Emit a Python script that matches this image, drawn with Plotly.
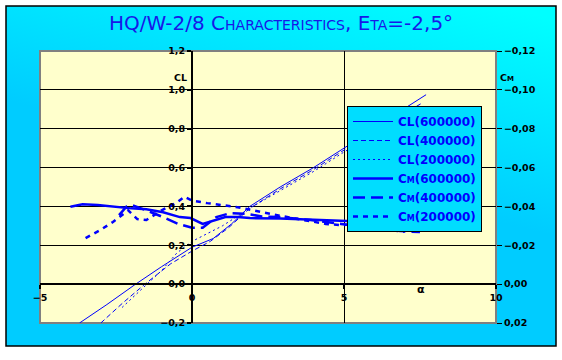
import base64
import plotly.graph_objects as go

# ---------------- data ----------------
alpha_cl600 = [-3.7, -2.8, -1.9, -1.0, 0.0, 0.7, 1.3, 1.9, 2.9, 4.0, 5.0, 6.0, 7.0, 7.7]
cl600 = [-0.20, -0.105, -0.005, 0.09, 0.19, 0.235, 0.31, 0.40, 0.50, 0.60, 0.70, 0.80, 0.905, 0.975]

alpha_cl400 = [-3.0, -2.3, -1.55, -0.7, 0.0, 0.6, 1.2, 1.9, 2.9, 4.0, 5.0, 6.0, 7.0, 7.6]
cl400 = [-0.20, -0.10, 0.0, 0.105, 0.17, 0.22, 0.29, 0.39, 0.49, 0.59, 0.69, 0.79, 0.88, 0.935]

alpha_cl200 = [-2.3, -1.6, -1.0, -0.5, 0.0, 0.5, 1.0, 1.5, 2.0, 3.0, 4.0, 5.0, 6.0, 7.0, 7.5]
cl200 = [-0.12, -0.02, 0.07, 0.16, 0.22, 0.26, 0.30, 0.35, 0.40, 0.49, 0.58, 0.68, 0.77, 0.86, 0.91]

alpha_cm600 = [-4.0, -3.6, -3.1, -2.6, -2.0, -1.5, -0.95, -0.4, -0.05, 0.35, 0.7, 1.1, 1.5, 1.9,
               2.9, 4.0, 5.1, 6.2, 7.3, 7.7]
cm600 = [-0.0398, -0.0411, -0.0407, -0.0398, -0.0390, -0.0386, -0.0370, -0.0345, -0.0340, -0.0310,
         -0.0325, -0.0345, -0.0345, -0.0340, -0.0338, -0.0330, -0.0325, -0.0323, -0.0315, -0.0310]

alpha_cm400 = [-2.4, -2.15, -1.95, -1.5, -0.95, -0.45, 0.0, 0.35, 0.8, 1.25, 1.8, 2.3, 2.9, 3.9,
               4.9, 6.0, 6.85, 7.5]
cm400 = [-0.0355, -0.0400, -0.0405, -0.0380, -0.0345, -0.0310, -0.0290, -0.0290, -0.0345, -0.0365,
         -0.0362, -0.0348, -0.0345, -0.0330, -0.0310, -0.0290, -0.0273, -0.0268]

alpha_cm200 = [-3.5, -3.0, -2.6, -2.3, -2.1, -1.8, -1.5, -1.0, -0.5, -0.25, 0.0, 0.5, 1.0, 1.5,
               2.0, 2.6, 3.3, 4.4, 4.9, 5.5, 6.0, 6.4, 7.0]
cm200 = [-0.0237, -0.0280, -0.0320, -0.0355, -0.0380, -0.0335, -0.0330, -0.0380, -0.0420, -0.0450,
         -0.0430, -0.0417, -0.0407, -0.0396, -0.0380, -0.0360, -0.0340, -0.0310, -0.0304, -0.0310,
         -0.0300, -0.0280, -0.0270]

x_ticks = [-5, 0, 5, 10]
title_text = "HQ/W-2/8 Characteristics, Eta=-2,5°"

# ---------------- layout geometry ----------------
W, H = 562, 360
ML, MR, MT, MB = 40, 66, 51, 37
PW, PH = W - ML - MR, H - MT - MB

def px_x(px):
    return (px - ML) / PW

def px_y(py):
    return (H - MB - py) / PH

BLUE = "#0000FF"
TICKFONT = dict(family="DejaVu Sans", size=9.5, color="black", weight="bold")

fig = go.Figure()

cl_specs = [("CL(600000)", alpha_cl600, cl600, "solid"),
            ("CL(400000)", alpha_cl400, cl400, "5px,3px"),
            ("CL(200000)", alpha_cl200, cl200, "2px,3px")]
for name, a, v, dash in cl_specs:
    fig.add_trace(go.Scatter(x=a, y=v, name=name, mode="lines",
                             line=dict(color=BLUE, width=1, dash=dash), yaxis="y"))

cm_specs = [("Cm(600000)", alpha_cm600, cm600, "solid"),
            ("Cm(400000)", alpha_cm400, cm400, "12px,6px"),
            ("Cm(200000)", alpha_cm200, cm200, "5px,5px")]
for name, a, v, dash in cm_specs:
    fig.add_trace(go.Scatter(x=a, y=v, name=name, mode="lines",
                             line=dict(color=BLUE, width=2.5, dash=dash), yaxis="y2"))

# background gradient (outer panel) with the pale plot area
bx0, by0, bx1, by1 = 6, 6, 556, 346
bw, bh = bx1 - bx0, by1 - by0
svg = (f'<svg xmlns="http://www.w3.org/2000/svg" width="{bw}" height="{bh}" '
       f'preserveAspectRatio="none"><defs><linearGradient id="g" x1="0.9" y1="0" x2="0.5" y2="1">'
       f'<stop offset="0" stop-color="#00FFFF"/><stop offset="0.55" stop-color="#00CCFF"/>'
       f'<stop offset="1" stop-color="#00CCFF"/></linearGradient></defs>'
       f'<rect width="{bw}" height="{bh}" fill="url(#g)"/>'
       f'<rect x="{ML-bx0}" y="{MT-by0}" width="{PW}" height="{PH}" fill="#FFFFCC"/></svg>')
src = "data:image/svg+xml;base64," + base64.b64encode(svg.encode()).decode()

fig.update_layout(
    width=W, height=H,
    margin=dict(l=ML, r=MR, t=MT, b=MB),
    paper_bgcolor="white",
    plot_bgcolor="#FFFFCC",
    separators=",.",
    showlegend=True,
    title=dict(text=title_text, x=0.5, xanchor="center", xref="container",
               y=1 - 23 / H, yanchor="middle", yref="container",
               font=dict(family="DejaVu Sans", size=20, color="#1818E8", variant="small-caps")),
    images=[dict(source=src, xref="paper", yref="paper",
                 x=px_x(bx0), y=px_y(by0), sizex=bw / PW, sizey=bh / PH,
                 xanchor="left", yanchor="top", sizing="stretch", layer="below")],
    xaxis=dict(domain=[0, 1], range=[-5, 10], anchor="free", position=1 / 7,
               tickvals=x_ticks, showline=True, linecolor="black", linewidth=2,
               ticks="outside", ticklen=4, tickwidth=2, tickcolor="black",
               showgrid=True, gridcolor="black", gridwidth=1, zeroline=False,
               tickfont=TICKFONT),
    yaxis=dict(domain=[0, 1], range=[-0.2, 1.2], anchor="free", position=1 / 3,
               dtick=0.2, tick0=0, tickformat=".1f",
               showline=True, linecolor="black", linewidth=2,
               ticks="outside", ticklen=4, tickwidth=2, tickcolor="black",
               showgrid=True, gridcolor="black", gridwidth=1, zeroline=False,
               tickfont=TICKFONT),
    yaxis2=dict(overlaying="y", side="right", anchor="x", range=[0.02, -0.12],
                dtick=0.02, tick0=0, tickformat=".2f", showgrid=False, zeroline=False,
                showline=False, ticks="outside", ticklen=5, tickwidth=1, tickcolor="black",
                tickfont=TICKFONT),
    legend=dict(x=px_x(347), y=px_y(106), xanchor="left", yanchor="top",
                bgcolor="#00DDFF", bordercolor="black", borderwidth=1,
                font=dict(family="DejaVu Sans", size=12, color=BLUE, weight="bold",
                          variant="small-caps"),
                itemwidth=40, tracegroupgap=0),
    shapes=[
        dict(type="rect", xref="paper", yref="paper", x0=0, x1=1, y0=0, y1=1,
             line=dict(color="#808080", width=2), fillcolor="rgba(0,0,0,0)", layer="between"),
        dict(type="rect", xref="paper", yref="paper",
             x0=px_x(bx0), x1=px_x(bx1), y0=px_y(by1), y1=px_y(by0),
             line=dict(color="black", width=1.5), fillcolor="rgba(0,0,0,0)", layer="above"),
    ],
    annotations=[
        dict(text="CL", xref="paper", yref="paper", x=px_x(172), y=px_y(70),
             showarrow=False, font=dict(family="DejaVu Sans", size=9.5, color="black",
                                        weight="bold", variant="small-caps")),
        dict(text="Cm", xref="paper", yref="paper", x=px_x(516), y=px_y(70),
             showarrow=False, font=dict(family="DejaVu Sans", size=9.5, color="black",
                                        weight="bold", variant="small-caps")),
        dict(text="α", xref="paper", yref="paper", x=px_x(427), y=px_y(298),
             showarrow=False, font=dict(family="DejaVu Sans", size=11, color="black",
                                        weight="bold")),
    ],
)

fig.write_html("out.html", config={"displayModeBar": False},
               post_script="document.body.style.margin='0px';")
